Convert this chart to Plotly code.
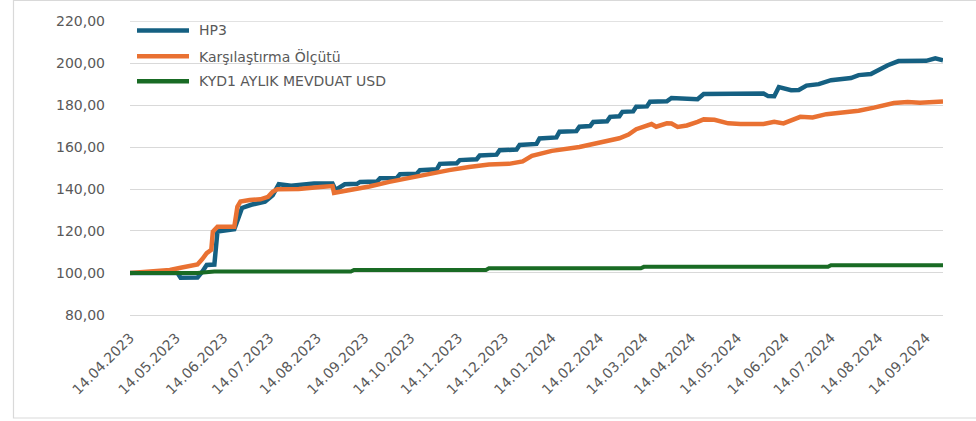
import plotly.graph_objects as go

# HP3 fund index
HP3_DATES = [
    "2023-04-14", "2023-05-15", "2023-05-17", "2023-05-28", "2023-05-31", "2023-06-03",
    "2023-06-08", "2023-06-10", "2023-06-21", "2023-06-26", "2023-07-02", "2023-07-11",
    "2023-07-16", "2023-07-20", "2023-07-28", "2023-08-12", "2023-08-24", "2023-08-26",
    "2023-09-01", "2023-09-09", "2023-09-11", "2023-09-22", "2023-09-24", "2023-10-05",
    "2023-10-07", "2023-10-18", "2023-10-20", "2023-10-31", "2023-11-02", "2023-11-13",
    "2023-11-15", "2023-11-26", "2023-11-28", "2023-12-09", "2023-12-11", "2023-12-22",
    "2023-12-24", "2024-01-04", "2024-01-06", "2024-01-17", "2024-01-19", "2024-01-30",
    "2024-02-01", "2024-02-08", "2024-02-10", "2024-02-19", "2024-02-21", "2024-02-27",
    "2024-02-29", "2024-03-07", "2024-03-09", "2024-03-16", "2024-03-18",
    "2024-03-29", "2024-04-01", "2024-04-07", "2024-04-18", "2024-04-22", "2024-05-31",
    "2024-06-03", "2024-06-07", "2024-06-10", "2024-06-18", "2024-06-23", "2024-06-28",
    "2024-07-06", "2024-07-14", "2024-07-27", "2024-08-01", "2024-08-09", "2024-08-14",
    "2024-08-20", "2024-08-27", "2024-09-10", "2024-09-14", "2024-09-20", "2024-09-25",
]
HP3_VALUES = [
    100.0, 100.0, 97.7, 97.8, 100.5, 103.8,
    104.0, 119.8, 120.8, 131.0, 132.5, 134.0,
    137.0, 142.3, 141.6, 142.6, 142.6, 139.6,
    142.3, 142.5, 143.4, 143.6, 145.1, 145.3,
    147.1, 147.3, 149.0, 149.4, 152.0, 152.3,
    153.8, 154.2, 156.0, 156.4, 158.5, 158.8,
    161.0, 161.5, 164.1, 164.6, 167.3, 167.6,
    169.7, 170.0, 172.0, 172.3, 174.4, 174.7,
    176.8, 177.0, 179.2, 179.4, 181.6,
    181.8, 183.4, 183.0, 182.8, 185.3, 185.5,
    184.3, 184.2, 188.6, 187.1, 187.2, 189.3,
    190.0, 191.9, 192.9, 194.3, 194.8, 196.8,
    199.0, 201.0, 201.1, 201.1, 202.3, 201.4,
]

# Benchmark index
BENCH_DATES = [
    "2023-04-14", "2023-04-27", "2023-05-10", "2023-05-17", "2023-05-23", "2023-05-28",
    "2023-05-31", "2023-06-03", "2023-06-06", "2023-06-07", "2023-06-10", "2023-06-21",
    "2023-06-23", "2023-06-25", "2023-07-01", "2023-07-08", "2023-07-13", "2023-07-16",
    "2023-07-19", "2023-08-02", "2023-08-16", "2023-08-24", "2023-08-25", "2023-09-04",
    "2023-09-17", "2023-09-30", "2023-10-13", "2023-10-26", "2023-11-08", "2023-11-21",
    "2023-12-04", "2023-12-17", "2023-12-26", "2024-01-01", "2024-01-14", "2024-02-01",
    "2024-02-10", "2024-02-19", "2024-02-27", "2024-03-04", "2024-03-09", "2024-03-19",
    "2024-03-22", "2024-03-29", "2024-04-01", "2024-04-05", "2024-04-11", "2024-04-18",
    "2024-04-22", "2024-04-29", "2024-05-08", "2024-05-16", "2024-05-31", "2024-06-07",
    "2024-06-13", "2024-06-24", "2024-07-02", "2024-07-11", "2024-07-20", "2024-08-01",
    "2024-08-11", "2024-08-24", "2024-09-02", "2024-09-10", "2024-09-25",
]
BENCH_VALUES = [
    100.0, 100.5, 101.4, 102.5, 103.3, 104.0,
    106.5, 109.4, 111.0, 119.7, 122.0, 122.0,
    131.5, 134.0, 134.8, 135.1, 136.3, 138.7,
    139.9, 140.0, 141.0, 141.4, 138.2, 139.4,
    141.2, 143.4, 145.4, 147.1, 149.0, 150.5,
    151.7, 152.0, 153.2, 155.8, 158.2, 160.0,
    161.6, 163.0, 164.2, 166.0, 168.5, 171.0,
    169.7, 171.3, 171.2, 169.6, 170.3, 172.0,
    173.2, 173.0, 171.3, 171.0, 171.0, 172.0,
    171.3, 174.4, 174.1, 175.7, 176.2, 177.3,
    178.8, 181.0, 181.5, 181.1, 181.7,
]

# 1-month USD deposit index
DEP_DATES = [
    "2023-04-14", "2023-05-28", "2023-06-08", "2023-09-05", "2023-09-07",
    "2023-12-02", "2023-12-04", "2024-03-12", "2024-03-14", "2024-07-12",
    "2024-07-14", "2024-09-25",
]
DEP_VALUES = [
    100.0, 100.0, 100.7, 100.7, 101.4,
    101.4, 102.2, 102.2, 102.9, 102.9,
    103.7, 103.7,
]

SERIES_NAMES = ["HP3", "Karşılaştırma Ölçütü", "KYD1 AYLIK MEVDUAT USD"]
SERIES_COLORS = ["#156082", "#E97132", "#196B24"]

TICK_DATES = [
    "2023-04-14", "2023-05-14", "2023-06-14", "2023-07-14", "2023-08-14", "2023-09-14",
    "2023-10-14", "2023-11-14", "2023-12-14", "2024-01-14", "2024-02-14", "2024-03-14",
    "2024-04-14", "2024-05-14", "2024-06-14", "2024-07-14", "2024-08-14", "2024-09-14",
]
TICK_TEXT = [
    "14.04.2023", "14.05.2023", "14.06.2023", "14.07.2023", "14.08.2023", "14.09.2023",
    "14.10.2023", "14.11.2023", "14.12.2023", "14.01.2024", "14.02.2024", "14.03.2024",
    "14.04.2024", "14.05.2024", "14.06.2024", "14.07.2024", "14.08.2024", "14.09.2024",
]
Y_TICKS = [80, 100, 120, 140, 160, 180, 200, 220]

FONT = "DejaVu Sans"
TEXT_COLOR = "#595959"
GRID_COLOR = "#D9D9D9"

W, H = 976, 421
ML, MR, MT, MB = 130, 33, 21, 106
PW, PH = W - ML - MR, H - MT - MB

fig = go.Figure()
for xs, ys, name, color, width in [
    (HP3_DATES, HP3_VALUES, SERIES_NAMES[0], SERIES_COLORS[0], 4.5),
    (BENCH_DATES, BENCH_VALUES, SERIES_NAMES[1], SERIES_COLORS[1], 4.5),
    (DEP_DATES, DEP_VALUES, SERIES_NAMES[2], SERIES_COLORS[2], 4),
]:
    fig.add_trace(go.Scatter(
        x=xs, y=ys, name=name, mode="lines",
        line=dict(color=color, width=width, shape="linear"),
        showlegend=False,
    ))


def px_x(px):
    return (px - ML) / PW


def px_y(py):
    return (H - MB - py) / PH


shapes = [
    # outer chart frame
    dict(type="rect", xref="paper", yref="paper",
         x0=px_x(13.5), x1=px_x(990), y0=px_y(418), y1=px_y(0.5),
         line=dict(color=GRID_COLOR, width=1.2), fillcolor="rgba(0,0,0,0)", layer="below"),
    # top gridline at the upper edge of the value range
    dict(type="line", xref="paper", yref="y", x0=0, x1=1, y0=Y_TICKS[-1], y1=Y_TICKS[-1],
         line=dict(color=GRID_COLOR, width=1.2), layer="below"),
]
annotations = []
# legend entries at the top-left of the plot
for i, (name, color) in enumerate(zip(SERIES_NAMES, SERIES_COLORS)):
    yc = [30.5, 56.3, 81.2][i]
    shapes.append(dict(type="line", xref="paper", yref="paper",
                       x0=px_x(137), x1=px_x(189), y0=px_y(yc), y1=px_y(yc),
                       line=dict(color=color, width=4.5)))
    annotations.append(dict(xref="paper", yref="paper", x=px_x(197), y=px_y(yc),
                            xanchor="left", yanchor="middle", showarrow=False,
                            text=name, font=dict(family=FONT, size=14, color=TEXT_COLOR)))

fig.update_layout(
    width=W, height=H,
    margin=dict(l=ML, r=MR, t=MT, b=MB),
    paper_bgcolor="white", plot_bgcolor="white",
    separators=",.",
    font=dict(family=FONT, size=14, color=TEXT_COLOR),
    shapes=shapes, annotations=annotations,
    showlegend=False,
)
fig.update_xaxes(
    type="date", range=["2023-04-14", "2024-09-25"],
    tickvals=TICK_DATES, ticktext=TICK_TEXT, tickangle=-45,
    showgrid=False, zeroline=False, ticks="",
    showline=True, linecolor=GRID_COLOR, linewidth=1.2,
    ticklabelstandoff=8,
    tickfont=dict(family=FONT, size=14, color=TEXT_COLOR),
)
fig.update_yaxes(
    range=[79.95, 220.1], tickvals=Y_TICKS, tickformat=".2f",
    showgrid=True, gridcolor=GRID_COLOR, gridwidth=1.2,
    zeroline=False, ticks="", showline=False,
    ticklabelstandoff=24,
    tickfont=dict(family=FONT, size=14, color=TEXT_COLOR),
)

fig.write_html("out.html")
